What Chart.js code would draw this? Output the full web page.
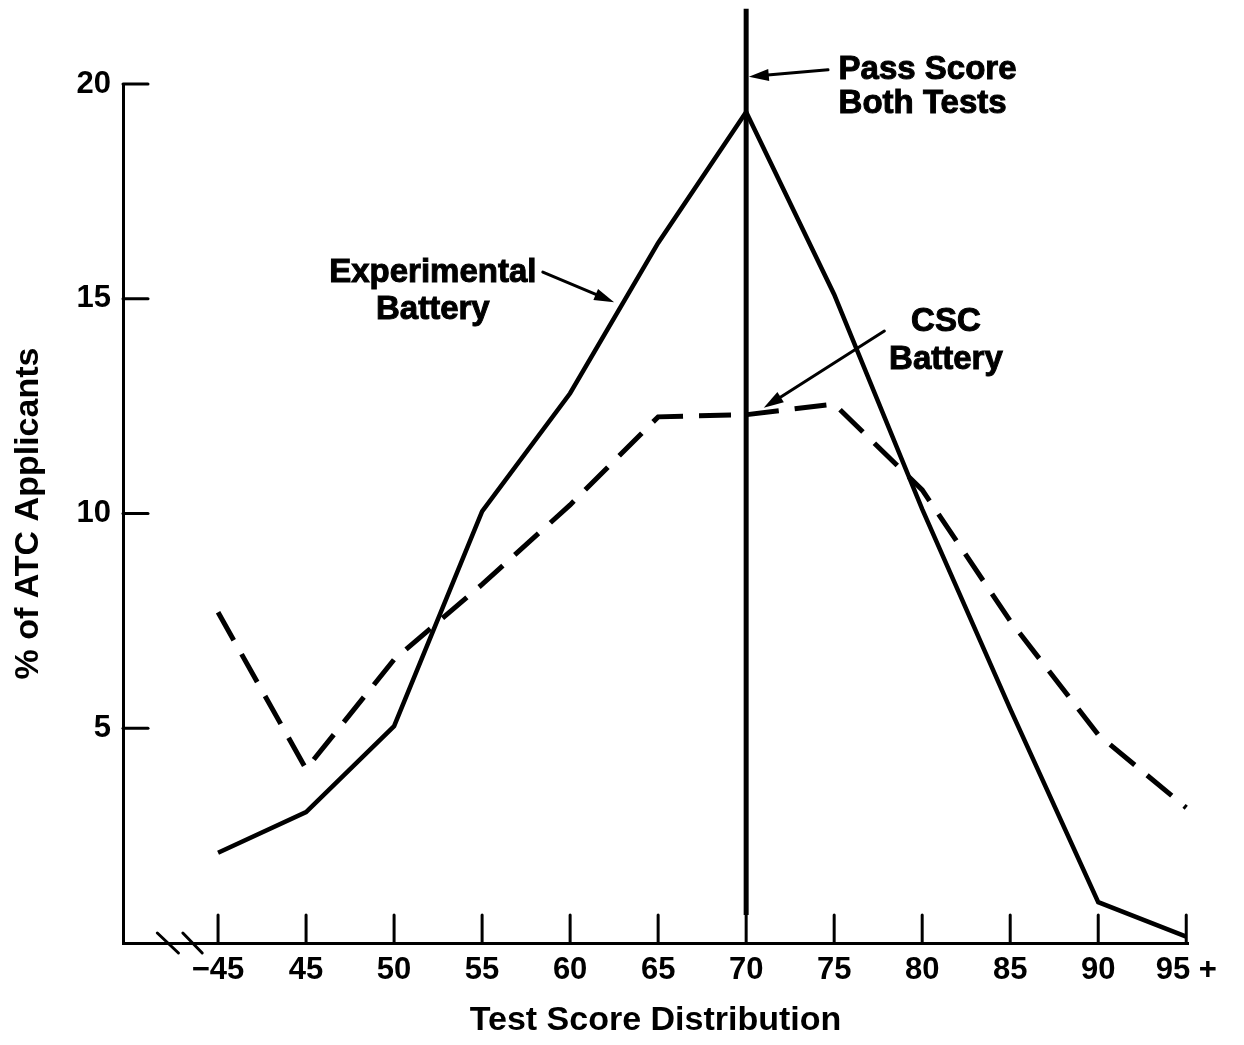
<!DOCTYPE html>
<html>
<head>
<meta charset="utf-8">
<script src="https://cdn.jsdelivr.net/npm/chart.js@4"></script>
<style>
    html, body { margin: 0; padding: 0; background: #fff; }
    #wrap { width: 1244px; height: 1045px; }
</style>
</head>
<body>
<div id="wrap"><canvas id="scoreChart" width="1244" height="1045"></canvas></div>
<script>
    // score bands along the bottom
    const scoreLabels = ['\u221245', '45', '50', '55', '60', '65', '70', '75', '80', '85', '90', '95 +'];
    // % of applicants in each band
    const experimental = [2.1, 3.05, 5.05, 10.05, 12.8, 16.3, 19.35, 15.1, 10.1, 5.45, 0.95, 0.15];
    const cscBattery = [7.7, 4.05, 6.6, 8.35, 10.2, 12.25, 12.3, 12.55, 10.55, 7.5, 4.85, 3.15];
    const yTicks = [5, 10, 15, 20];
    // pass score marker (band index 6 = 70), drawn past the top of the plot
    const passIndex = 6;
    const passSpan = [0.65, 21.75];

    const FONT = '"Liberation Sans", Arial, sans-serif';

    function toPoints(arr) {
        return arr.map(function (v, i) { return {x: i, y: v}; });
    }

    // labels and arrows, placed in data units
    const notes = [
        {lines: ['Pass Score', 'Both Tests'], x: 7.05, y: [20.33, 19.53], align: 'left',
         arrow: [[6.93, 20.33], [6.03, 20.17]]},
        {lines: ['Experimental', 'Battery'], x: 2.44, y: [15.6, 14.74], align: 'center',
         arrow: [[3.69, 15.62], [4.5, 14.92]]},
        {lines: ['CSC', 'Battery'], x: 8.27, y: [14.46, 13.57], align: 'center',
         arrow: [[7.57, 14.25], [6.2, 12.46]]}
    ];

    function drawArrow(ctx, x1, y1, x2, y2) {
        const ang = Math.atan2(y2 - y1, x2 - x1);
        const len = 20, half = 6;
        ctx.beginPath();
        ctx.moveTo(x1, y1);
        ctx.lineTo(x2 - Math.cos(ang) * len * 0.8, y2 - Math.sin(ang) * len * 0.8);
        ctx.stroke();
        ctx.beginPath();
        ctx.moveTo(x2, y2);
        ctx.lineTo(x2 - Math.cos(ang) * len - Math.sin(ang) * half, y2 - Math.sin(ang) * len + Math.cos(ang) * half);
        ctx.lineTo(x2 - Math.cos(ang) * len + Math.sin(ang) * half, y2 - Math.sin(ang) * len - Math.cos(ang) * half);
        ctx.closePath();
        ctx.fill();
    }

    const extras = {
        id: 'extras',
        afterDraw: function (chart) {
            const ctx = chart.ctx;
            const xs = chart.scales.x, ys = chart.scales.y;
            const base = ys.getPixelForValue(0);
            const left = xs.left;
            ctx.save();
            ctx.strokeStyle = '#000';
            ctx.fillStyle = '#000';
            ctx.lineCap = 'round';

            // inward tick marks
            ctx.lineWidth = 3;
            yTicks.forEach(function (v) {
                const py = ys.getPixelForValue(v);
                ctx.beginPath();
                ctx.moveTo(left, py);
                ctx.lineTo(left + 25, py);
                ctx.stroke();
            });
            scoreLabels.forEach(function (_, i) {
                const px = xs.getPixelForValue(i);
                ctx.beginPath();
                ctx.moveTo(px, base);
                ctx.lineTo(px, base - 28);
                ctx.stroke();
            });

            // axis break
            [[-0.69, -0.45], [-0.4, -0.18]].forEach(function (b) {
                ctx.beginPath();
                ctx.moveTo(xs.getPixelForValue(b[0]), base - 10);
                ctx.lineTo(xs.getPixelForValue(b[1]), base + 10);
                ctx.stroke();
            });

            // annotations (light stroke to thicken the lettering)
            ctx.font = 'bold 33px ' + FONT;
            ctx.textBaseline = 'middle';
            ctx.lineWidth = 1;
            notes.forEach(function (n) {
                ctx.textAlign = n.align;
                n.lines.forEach(function (t, k) {
                    const tx = xs.getPixelForValue(n.x), ty = ys.getPixelForValue(n.y[k]);
                    ctx.fillText(t, tx, ty);
                    ctx.strokeText(t, tx, ty);
                });
            });
            ctx.lineWidth = 3;
            notes.forEach(function (n) {
                drawArrow(ctx,
                    xs.getPixelForValue(n.arrow[0][0]), ys.getPixelForValue(n.arrow[0][1]),
                    xs.getPixelForValue(n.arrow[1][0]), ys.getPixelForValue(n.arrow[1][1]));
            });
            ctx.restore();
        }
    };

    new Chart(document.getElementById('scoreChart'), {
        type: 'line',
        data: {
            datasets: [{
                label: 'Experimental Battery',
                data: toPoints(experimental),
                borderColor: '#000',
                borderWidth: 4.5,
                pointRadius: 0,
                tension: 0
            }, {
                label: 'CSC Battery',
                data: toPoints(cscBattery),
                borderColor: '#000',
                borderWidth: 5,
                borderDash: [32, 16],
                pointRadius: 0,
                tension: 0
            }, {
                label: 'Pass Score',
                data: passSpan.map(function (v) { return {x: passIndex, y: v}; }),
                borderColor: '#000',
                borderWidth: 5,
                pointRadius: 0,
                clip: false
            }]
        },
        options: {
            responsive: false,
            animation: false,
            events: [],
            layout: {padding: {top: 84, right: 56, left: 0, bottom: 0}},
            plugins: {legend: {display: false}, tooltip: {enabled: false}},
            scales: {
                x: {
                    type: 'linear',
                    min: -1.08,
                    max: 11.02,
                    afterBuildTicks: function (scale) {
                        scale.ticks = scoreLabels.map(function (_, i) { return {value: i}; });
                    },
                    afterFit: function (scale) { scale.height = 102; },
                    grid: {display: false},
                    border: {display: true, color: '#000', width: 3},
                    ticks: {
                        color: '#000',
                        padding: 1,
                        maxRotation: 0,
                        font: {family: FONT, size: 31, weight: 'bold'},
                        callback: function (v) { return scoreLabels[Math.round(v)]; }
                    },
                    title: {
                        display: true,
                        text: 'Test Score Distribution',
                        color: '#000',
                        padding: {top: 0, bottom: 4},
                        font: {family: FONT, size: 34, weight: 'bold'}
                    }
                },
                y: {
                    min: 0,
                    max: 20,
                    afterBuildTicks: function (scale) {
                        scale.ticks = yTicks.map(function (v) { return {value: v}; });
                    },
                    afterFit: function (scale) { scale.width = 123; },
                    grid: {display: false},
                    border: {display: true, color: '#000', width: 3},
                    ticks: {
                        color: '#000',
                        padding: 4,
                        font: {family: FONT, size: 31, weight: 'bold'}
                    },
                    title: {
                        display: true,
                        text: '% of ATC Applicants',
                        color: '#000',
                        padding: {top: 8, bottom: 0},
                        font: {family: FONT, size: 34, weight: 'bold'}
                    }
                }
            }
        },
        plugins: [extras]
    });
</script>
</body>
</html>
